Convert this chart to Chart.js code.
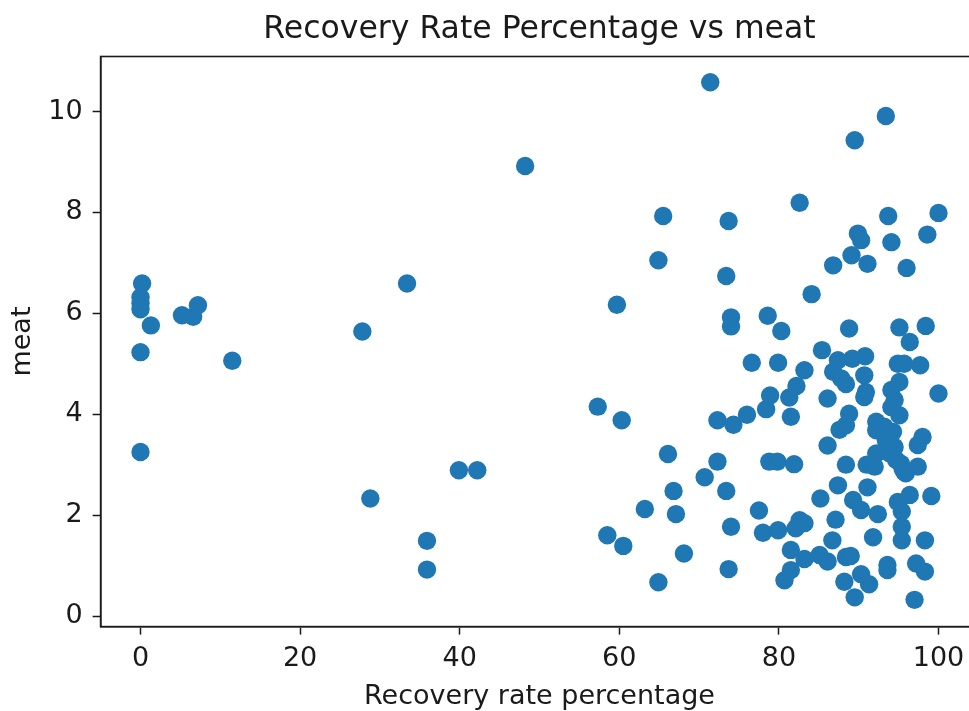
<!DOCTYPE html>
<html>
<head>
<meta charset="utf-8">
<script src="https://cdn.jsdelivr.net/npm/chart.js@4/dist/chart.umd.min.js"></script>
<style>
  html, body { margin: 0; padding: 0; background: #fff; overflow: hidden; }
  #wrap { position: absolute; left: 0; top: 0; width: 990px; height: 711px; }
</style>
</head>
<body>
<div id="wrap"><canvas id="c" width="990" height="711"></canvas></div>
<script>
// Recovery rate percentage (x) values
const recoveryRate = [
  0.2, 0, 0, 0, 1.3, 0, 0, 5.2, 6.6, 7.2, 11.5, 27.8, 28.8, 33.4, 35.9, 35.9, 39.9, 42.2, 48.2,
  57.3, 58.5, 59.7, 60.3, 60.5, 63.2, 64.9, 64.9, 65.5, 66.1, 66.8, 67.1, 68.1, 70.7,
  71.4, 72.3, 72.3, 73.4, 73.7, 73.4, 74.0, 74.0, 74.0, 73.7, 74.3, 76.0, 76.6, 77.5, 78.0, 78.4, 78.6, 78.9, 78.8, 79.8, 79.9, 79.9,
  80.3, 80.7, 81.3, 81.5, 81.9, 81.5, 81.5, 82.2, 82.6, 82.6, 83.2, 82.1, 83.2, 83.2, 84.1, 85.1, 85.4, 85.2, 86.1, 86.1, 86.1,
  86.8, 86.7, 86.8, 87.4, 87.1, 87.4, 87.6, 87.8, 88.4, 88.4, 88.4, 88.4, 88.2, 88.8, 88.8, 89.1, 89.2, 89.0, 89.3, 89.5, 89.5, 89.9,
  90.3, 90.3, 90.3, 90.8, 90.7, 90.9, 90.7, 91.0, 91.1, 91.1, 91.3, 91.8, 92.0, 92.2, 92.2, 92.4, 93.2, 93.4, 93.6, 93.6, 93.7,
  93.9, 93.9, 94.1, 94.1, 94.1, 94.3, 94.5, 94.7, 94.9, 94.9, 95.1, 95.1, 95.1, 95.5, 95.4, 95.4, 95.4, 95.7, 95.9, 96.0, 96.4,
  96.4, 97.0, 97.2, 97.4, 97.4, 97.7, 98.0, 98.3, 98.3, 98.4, 98.6, 99.1, 100, 100, 93.4, 94.5, 95.3, 92.2, 95.7
];
// meat (y) values
const meat = [
  6.59, 6.32, 6.2, 6.08, 5.76, 5.23, 3.25, 5.96, 5.93, 6.16, 5.06, 5.64, 2.33, 6.59, 1.49, 0.92, 2.89, 2.89, 8.92,
  4.15, 1.6, 6.17, 3.88, 1.39, 2.12, 7.05, 0.67, 7.93, 3.21, 2.48, 2.02, 1.24, 2.75,
  10.58, 3.88, 3.06, 6.74, 7.83, 2.48, 5.92, 5.74, 1.77, 0.93, 3.79, 3.99, 5.02, 2.09, 1.65, 4.1, 5.95, 4.37, 3.06, 3.06, 5.02, 1.70,
  5.65, 0.71, 4.33, 3.95, 3.01, 1.31, 0.91, 4.56, 8.19, 1.9, 1.84, 1.74, 4.87, 1.13, 6.38, 1.21, 5.27, 2.33, 4.31, 3.38, 1.08,
  6.95, 1.50, 4.84, 5.07, 1.91, 2.59, 3.69, 4.71, 4.60, 3.78, 3.0, 1.17, 0.68, 5.70, 4.01, 7.15, 5.10, 1.19, 2.30, 9.43, 0.37, 7.58,
  7.45, 2.10, 0.83, 5.15, 4.77, 4.44, 4.34, 3.0, 6.98, 2.55, 0.63, 1.56, 2.96, 3.85, 3.22, 2.02, 3.75, 9.91, 1.01, 0.91, 7.93,
  3.62, 3.22, 7.41, 4.48, 4.14, 3.65, 4.28, 3.09, 5.0, 2.26, 5.72, 4.64, 3.98, 2.92, 2.07, 1.77, 1.50, 5.0, 2.83, 6.90, 5.43,
  2.40, 0.32, 1.04, 3.39, 2.96, 4.97, 3.55, 1.50, 0.88, 5.75, 7.56, 2.38, 7.99, 4.41, 3.49, 3.35, 3.02, 3.68, 2.86
];
const xTicks = [0, 20, 40, 60, 80, 100];
const yTicks = [0, 2, 4, 6, 8, 10];

const titleText = 'Recovery Rate Percentage vs meat';
const xLabel = 'Recovery rate percentage';
const yLabel = 'meat';

const points = recoveryRate.map((x, i) => ({ x: x, y: meat[i] }));
const FONT = 'DejaVu Sans';
const INK = '#1a1a1a';

const frame = {
  id: 'frame',
  afterDatasetsDraw(chart) {
    const a = chart.chartArea, ctx = chart.ctx;
    ctx.save();
    ctx.strokeStyle = INK;
    ctx.lineWidth = 1.6;
    ctx.strokeRect(a.left, a.top, a.right - a.left, a.bottom - a.top);
    ctx.restore();
  }
};

new Chart(document.getElementById('c'), {
  type: 'scatter',
  data: {
    datasets: [{
      data: points,
      backgroundColor: '#1f77b4',
      borderWidth: 0,
      pointRadius: 9.2,
      pointHoverRadius: 9.2
    }]
  },
  options: {
    responsive: false,
    animation: false,
    events: [],
    layout: { padding: { left: 0, right: 11.6, top: 0, bottom: 0 } },
    plugins: {
      legend: { display: false },
      tooltip: { enabled: false },
      title: {
        display: true,
        fullSize: false,
        text: titleText,
        color: INK,
        font: { family: FONT, size: 31.5, weight: 'normal', lineHeight: 1.2 },
        padding: { top: 11.3, bottom: 7.4 }
      }
    },
    scales: {
      x: {
        type: 'linear',
        min: -5,
        max: 105,
        afterBuildTicks(axis) { axis.ticks = xTicks.map(v => ({ value: v })); },
        afterFit(scale) { scale.height = 84.4; },
        ticks: { color: INK, font: { family: FONT, size: 27 }, padding: 8.5, maxRotation: 0 },
        grid: { drawOnChartArea: false, drawTicks: true, tickLength: 8, tickColor: INK, tickWidth: 1.5 },
        border: { display: true, color: INK, width: 1.6 },
        title: { display: true, text: xLabel, color: INK, font: { family: FONT, size: 27, lineHeight: 1.0 }, padding: { top: 0, bottom: 0.5 } }
      },
      y: {
        type: 'linear',
        min: -0.21,
        max: 11.09,
        afterBuildTicks(axis) { axis.ticks = yTicks.map(v => ({ value: v })); },
        afterFit(scale) { scale.width = 100.6; },
        ticks: { color: INK, font: { family: FONT, size: 27 }, padding: 10 },
        grid: { drawOnChartArea: false, drawTicks: true, tickLength: 8, tickColor: INK, tickWidth: 1.5 },
        border: { display: true, color: INK, width: 1.6 },
        title: { display: true, text: yLabel, color: INK, font: { family: FONT, size: 27, lineHeight: 1.0 }, padding: { top: 9, bottom: 0 } }
      }
    }
  },
  plugins: [frame]
});
</script>
</body>
</html>
